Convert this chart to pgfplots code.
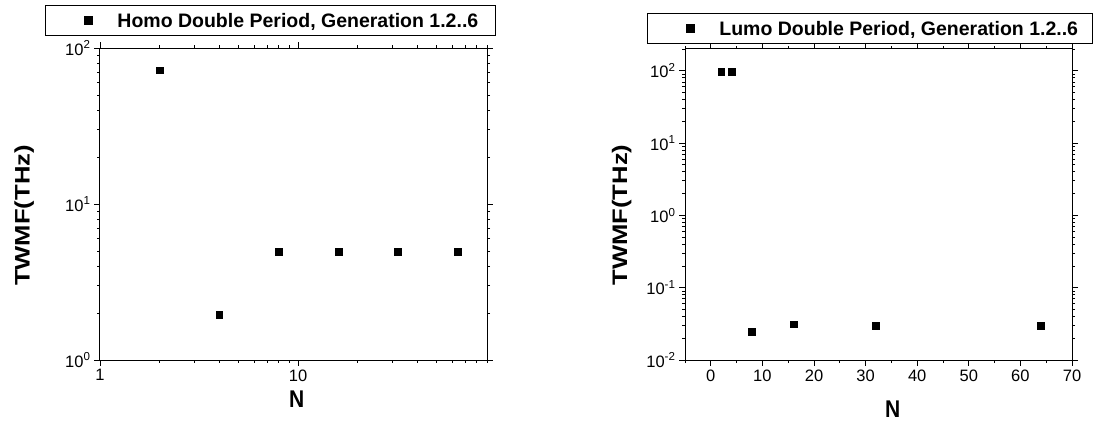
\documentclass[border=0pt]{standalone}
\usepackage{fontspec}
\setmainfont{Liberation Sans}
\usepackage{graphicx}
\usepackage{pgfplots}
\pgfplotsset{compat=1.18}

\newcommand{\tickfont}{\fontsize{16.5}{18}\selectfont}
\newcommand{\labfont}{\fontsize{21}{24}\selectfont\bfseries}
\newcommand{\legfont}{\fontsize{19.5}{22}\selectfont\bfseries}

\pgfplotsset{
  myaxis/.style={
    scale only axis, width=387pt,
    axis line style={line width=1pt},
    tick align=outside, major tick length=6pt, minor tick length=3pt,
    every tick/.style={black, line width=0.8pt},
    tick label style={font=\tickfont},
    /pgf/number format/assume math mode=true,
    label style={font=\labfont},
    ylabel style={anchor=center},
    xlabel style={anchor=center},
    legend style={draw=black, line width=0.8pt, fill=white, inner sep=0pt,
      anchor=north west, font=\legfont,
      nodes={inner sep=0pt, text depth=0pt}},
    legend image code/.code={\path[draw=none,fill=none] (-43pt,-15pt) rectangle (29pt,15pt);
      \draw[##1,mark size=4pt] plot coordinates {(0pt,0pt)};},
  },
}

\begin{document}
\begin{tikzpicture}
\begin{axis}[myaxis,
  at={(100pt,64pt)}, anchor=south west, height=312pt,
  xmode=log, ymode=log,
  xmin=1, xmax=90, ymin=1, ymax=100,
  xtick={1,10}, xticklabels={1,10},
  minor xtick={2,3,4,5,6,7,8,9,20,30,40,50,60,70,80,90},
  ytick={1,10,100},
  yticklabels={10\textsuperscript{0},10\textsuperscript{1},10\textsuperscript{2}},
  minor ytick={2,3,4,5,6,7,8,9,20,30,40,50,60,70,80,90},
  xlabel={\scalebox{1}[1.15]{N}},
  ylabel={\scalebox{1.22}[1]{TWMF(THz)}},
  xlabel style={at={(axis description cs:0.508,-0.125)}},
  ylabel style={at={(axis description cs:-0.196,0.463)}},
  legend style={at={(-0.142,1.138)}},
]
\addplot[only marks, mark=square*, mark size=3.4pt, black]
  coordinates {(2,72) (4,1.96) (8,4.95) (16,4.95) (32,4.95) (64,4.95)};
\addlegendentry{Homo Double Period, Generation 1.2..6\hspace*{17pt}}
\end{axis}

\begin{axis}[myaxis,
  at={(685pt,64pt)}, anchor=south west, height=311pt,
  ymode=log,
  xmin=-5, xmax=70, ymin=0.01, ymax=200,
  xtick={0,10,20,30,40,50,60,70},
  minor xtick={-5,5,15,25,35,45,55,65},
  ytick={0.01,0.1,1,10,100},
  yticklabels={10\textsuperscript{-2},10\textsuperscript{-1},10\textsuperscript{0},10\textsuperscript{1},10\textsuperscript{2}},
  minor ytick={0.02,0.03,0.04,0.05,0.06,0.07,0.08,0.09,0.2,0.3,0.4,0.5,0.6,0.7,0.8,0.9,2,3,4,5,6,7,8,9,20,30,40,50,60,70,80,90,200},
  xlabel={\scalebox{1}[1.15]{N}},
  ylabel={\scalebox{1.22}[1]{TWMF(THz)}},
  xlabel style={at={(axis description cs:0.537,-0.158)}},
  ylabel style={at={(axis description cs:-0.1636,0.466)}},
  legend style={at={(-0.0982,1.1158)}},
]
\addplot[only marks, mark=square*, mark size=3.4pt, black]
  coordinates {(2,97) (4,97) (8,0.0246) (16,0.0312) (32,0.0295) (64,0.0298)};
\addlegendentry{Lumo Double Period, Generation 1.2..6\hspace*{14pt}}
\end{axis}
\pgfresetboundingbox
\path[use as bounding box] (0,0) rectangle (1095pt,424pt);
\end{tikzpicture}
\end{document}
